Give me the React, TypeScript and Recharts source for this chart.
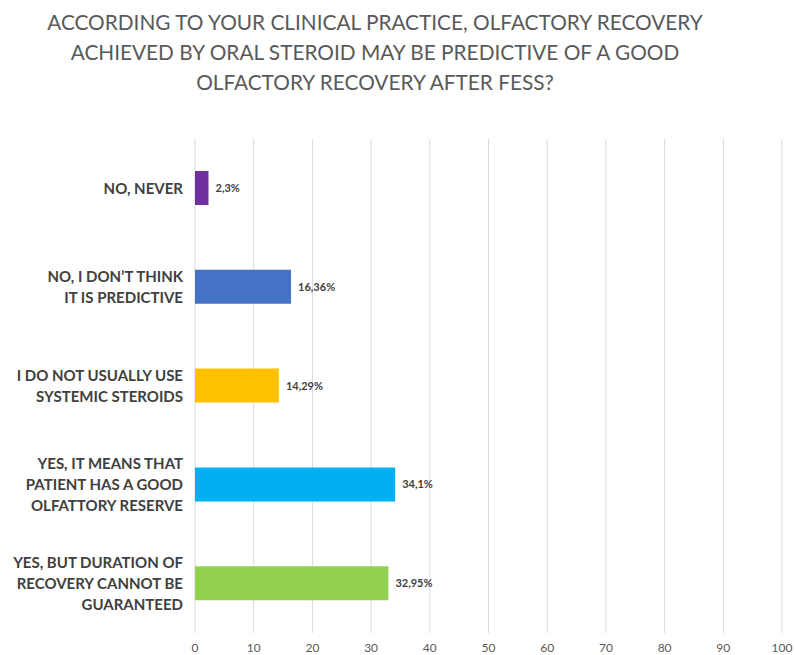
import React from "react";
import { BarChart, Bar, XAxis, YAxis, CartesianGrid, Cell, LabelList } from "recharts";

const titleLines = [
  "ACCORDING TO YOUR CLINICAL PRACTICE, OLFACTORY RECOVERY",
  "ACHIEVED BY ORAL STEROID MAY BE PREDICTIVE OF A GOOD",
  "OLFACTORY RECOVERY AFTER FESS?",
];

const categories = [
  "NO, NEVER",
  "NO, I DON\u2019T THINK\nIT IS PREDICTIVE",
  "I DO NOT USUALLY USE\nSYSTEMIC STEROIDS",
  "YES, IT MEANS THAT\nPATIENT HAS A GOOD\nOLFATTORY RESERVE",
  "YES, BUT DURATION OF\nRECOVERY CANNOT BE\nGUARANTEED",
];

const values = [2.3, 16.36, 14.29, 34.1, 32.95];

const colors = ["#7030a0", "#4472c4", "#ffc000", "#00b0f0", "#92d050"];

const xTicks = [0, 10, 20, 30, 40, 50, 60, 70, 80, 90, 100];

const data = categories.map((name, i) => ({ name, value: values[i] }));

const FONT = "Lato, 'Open Sans', sans-serif";

const CategoryTick = (props: any) => {
  const { x, y, payload } = props;
  const lines = String(payload.value).split("\n");
  const lh = 21;
  const start = y - ((lines.length - 1) * lh) / 2;
  return (
    <text
      x={x}
      y={start}
      textAnchor="end"
      fill="#404040"
      fontFamily={FONT}
      fontWeight={700}
      fontSize={15}
    >
      {lines.map((l, i) => (
        <tspan key={i} x={x} y={start + i * lh} dy="0.35em">
          {l}
        </tspan>
      ))}
    </text>
  );
};

const fmt = (v: any) => String(v).replace(".", ",") + "%";

export default function App() {
  return (
    <div
      style={{
        position: "absolute",
        left: 0,
        top: 0,
        width: 795,
        height: 655,
        background: "#ffffff",
      }}
    >
      {titleLines.map((t, i) => (
        <div
          key={i}
          style={{
            position: "absolute",
            left: 0,
            width: 750,
            top: 7 + i * 30,
            height: 30,
            lineHeight: "30px",
            textAlign: "center",
            fontFamily: FONT,
            fontSize: 20.8,
            color: "#595959",
            whiteSpace: "nowrap",
          }}
        >
          {t}
        </div>
      ))}
      <BarChart
        width={795}
        height={655}
        data={data}
        layout="vertical"
        margin={{ top: 139, right: 13, bottom: 0, left: 0 }}
      >
        <CartesianGrid horizontal={false} vertical={true} stroke="#d9d9d9" strokeWidth={1} />
        <XAxis
          type="number"
          domain={[0, 100]}
          ticks={xTicks}
          interval={0}
          axisLine={false}
          tickLine={false}
          height={22}
          tickMargin={4}
          tick={{ fill: "#595959", fontSize: 12, fontFamily: FONT }}
        />
        <YAxis
          type="category"
          dataKey="name"
          width={195}
          axisLine={false}
          tickLine={false}
          tickMargin={6}
          interval={0}
          tick={<CategoryTick />}
        />
        <Bar dataKey="value" barSize={34} isAnimationActive={false}>
          {data.map((d, i) => (
            <Cell key={i} fill={colors[i]} />
          ))}
          <LabelList
            dataKey="value"
            position="right"
            offset={7}
            formatter={fmt}
            fill="#404040"
            fontSize={11}
            fontWeight={700}
            fontFamily={FONT}
          />
        </Bar>
      </BarChart>
    </div>
  );
}
